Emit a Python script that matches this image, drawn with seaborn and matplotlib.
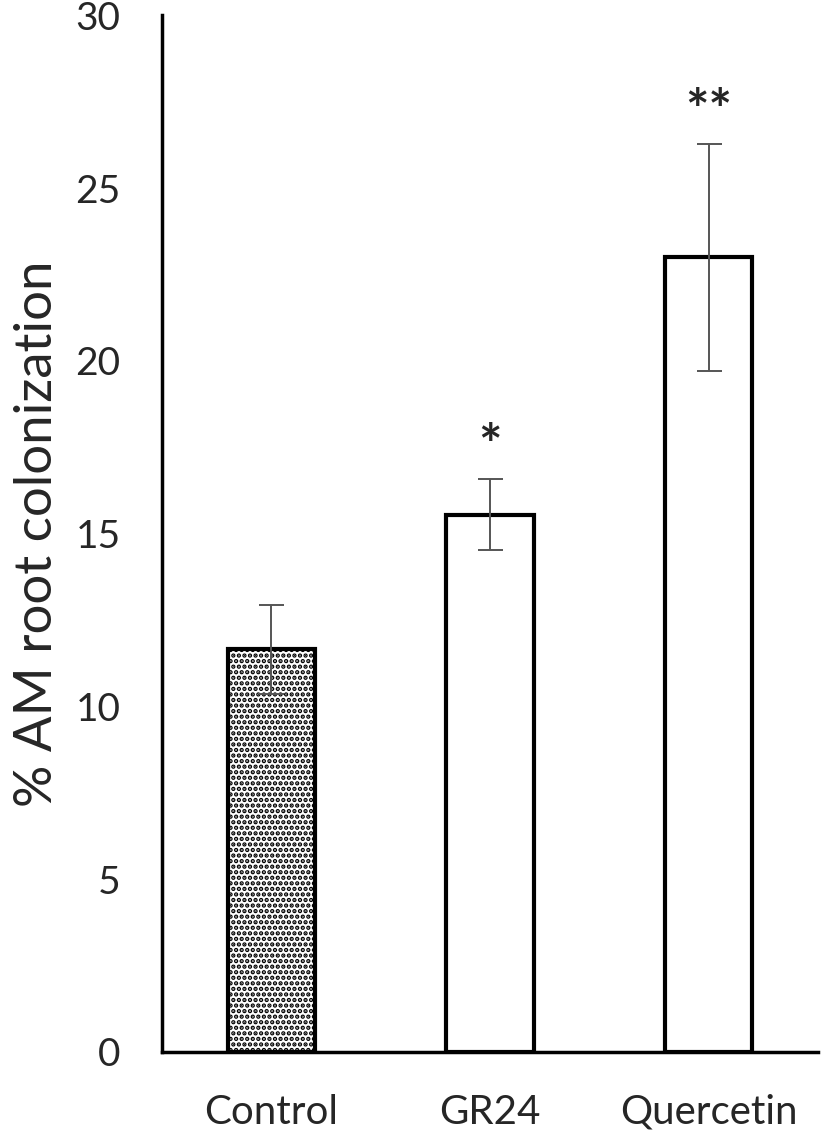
import numpy as np
import pandas as pd
import matplotlib
matplotlib.use('Agg')
import matplotlib.pyplot as plt
import seaborn as sns

# values
treatments = ['Control', 'GR24', 'Quercetin']
colonization = [11.65, 15.55, 23.0]
sem = [1.28, 1.02, 3.29]
signif = ['', '*', '**']

df = pd.DataFrame({'treatment': treatments, 'colonization': colonization})

sns.set_style('white')
plt.rcParams['font.family'] = ['Lato', 'DejaVu Sans']
plt.rcParams['hatch.linewidth'] = 2.2

fig = plt.figure(figsize=(8.27, 11.39), dpi=100)
ax = fig.add_axes([0.196, 0.0764, 0.793, 0.91])

sns.barplot(data=df, x='treatment', y='colonization', color='white',
            edgecolor='black', linewidth=3, width=0.40, errorbar=None, ax=ax)

# dotted fill on the control bar
ax.patches[0].set_hatch('...')

ax.errorbar(np.arange(len(treatments)), colonization, yerr=sem, fmt='none',
            ecolor='#555555', elinewidth=1.4, capsize=9, capthick=1.4, zorder=5)

for i, s in enumerate(signif):
    if s:
        ax.text(i, colonization[i] + sem[i] + 0.9, s, ha='center', va='center',
                fontsize=40, fontweight='bold')

ax.set_ylim(0, 30)
ax.set_xlim(-0.5, 2.5)
ax.set_yticks([0, 5, 10, 15, 20, 25, 30])
ax.set_xlabel('')
ax.set_ylabel('% AM root colonization', fontsize=38, labelpad=10)
ax.tick_params(axis='y', labelsize=28, length=0, pad=30)
ax.tick_params(axis='x', labelsize=29, length=0, pad=30)

sns.despine(ax=ax)
for side in ['left', 'bottom']:
    ax.spines[side].set_linewidth(2.5)
    ax.spines[side].set_color('black')

fig.savefig('out.png', dpi=100)
